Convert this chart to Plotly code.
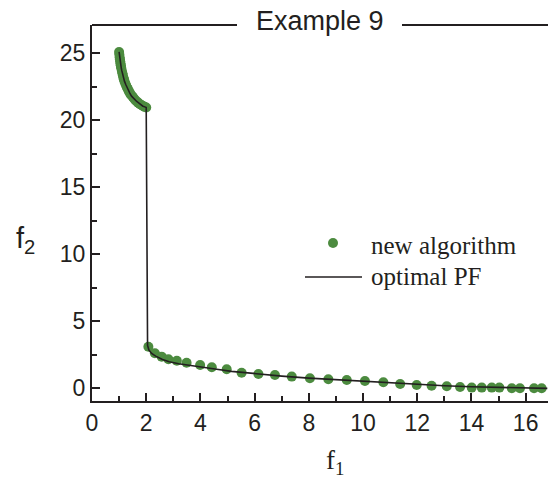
import plotly.graph_objects as go

# ---- data ----
alg_f1 = [1.00, 1.01, 1.02, 1.03, 1.04, 1.05, 1.06, 1.07, 1.08, 1.10, 1.12, 1.14, 1.16, 1.18,
          1.20, 1.23, 1.26, 1.29, 1.32, 1.35, 1.38, 1.42, 1.46, 1.50, 1.55, 1.60, 1.65, 1.70,
          1.76, 1.82, 1.88, 1.94, 2.00,
          2.08, 2.32, 2.57, 2.82, 3.13, 3.49, 3.99, 4.42, 4.97, 5.52, 6.14, 6.75, 7.37, 8.04,
          8.72, 9.40, 10.07, 10.75, 11.37, 11.98, 12.53, 13.09, 13.58, 14.01, 14.38, 14.75,
          15.03, 15.49, 15.79, 16.31, 16.59]
alg_f2 = [25.10, 24.90, 24.70, 24.55, 24.40, 24.25, 24.10, 24.00, 23.90, 23.70, 23.50, 23.35, 23.15, 23.05,
          22.90, 22.75, 22.60, 22.45, 22.35, 22.20, 22.10, 21.95, 21.85, 21.75, 21.62, 21.50, 21.40, 21.32,
          21.22, 21.14, 21.06, 21.00, 20.95,
          3.10, 2.61, 2.36, 2.16, 2.06, 1.91, 1.74, 1.57, 1.42, 1.16, 1.07, 0.99, 0.87, 0.75,
          0.67, 0.62, 0.54, 0.45, 0.32, 0.25, 0.19, 0.15, 0.10, 0.05, 0.05, 0.05,
          0.05, 0.00, 0.00, 0.00, 0.00]

pf_f1 = [1.00, 1.02, 1.04, 1.06, 1.08, 1.10, 1.13, 1.16, 1.20, 1.25, 1.30, 1.35, 1.40, 1.46,
         1.52, 1.58, 1.65, 1.72, 1.80, 1.88, 1.95, 2.00,
         2.05, 2.10, 2.20, 2.35, 2.60, 2.85, 3.20, 3.60, 4.05, 4.60, 5.15, 6.00, 7.00, 8.00,
         9.00, 10.00, 11.00, 12.00, 13.00, 14.00, 15.00, 16.00, 16.80]
pf_f2 = [25.10, 24.70, 24.40, 24.10, 23.90, 23.70, 23.40, 23.15, 22.90, 22.65, 22.40, 22.20, 22.00, 21.80,
         21.65, 21.50, 21.40, 21.30, 21.15, 21.05, 21.00, 20.95,
         3.20, 2.85, 2.60, 2.40, 2.15, 1.98, 1.83, 1.70, 1.58, 1.42, 1.26, 1.08, 0.91, 0.76,
         0.64, 0.53, 0.42, 0.30, 0.19, 0.11, 0.05, 0.01, -0.01]

x_range = [0, 17.12]
y_range = [-0.95, 27.11]

GREEN = "#4c8b3f"
INK = "#231f20"

# the page body adds an 8px offset, so the figure is 8px smaller than the window
OFF = 8
W, H = 556 - OFF, 482 - OFF
ML, MR, MT, MB = 92 - OFF, 0, 25 - OFF, 81
PW, PH = W - ML - MR, H - MT - MB


def px(x):
    return (x - OFF - ML) / PW


def py(y):
    return (H - MB - (y - OFF)) / PH


fig = go.Figure()
fig.add_trace(go.Scatter(x=alg_f1, y=alg_f2, mode="markers", name="new algorithm",
                         marker=dict(color=GREEN, size=10, line=dict(width=0)),
                         showlegend=False, cliponaxis=False))
fig.add_trace(go.Scatter(x=pf_f1, y=pf_f2, mode="lines", name="optimal PF",
                         line=dict(color=INK, width=1.6), showlegend=False, cliponaxis=False))

axis_common = dict(showgrid=False, zeroline=False, showline=True, linecolor=INK, linewidth=2,
                   ticks="inside", ticklen=8, tickwidth=2, tickcolor=INK, automargin=False,
                   tickfont=dict(family="Liberation Sans, Arial", size=23, color=INK))

fig.update_xaxes(range=x_range, tick0=0, dtick=2,
                 minor=dict(ticks="inside", ticklen=5, tickwidth=2, tickcolor=INK, dtick=1),
                 **axis_common)
fig.update_yaxes(range=y_range, tick0=0, dtick=5,
                 minor=dict(ticks="inside", ticklen=5, tickwidth=2, tickcolor=INK, dtick=2.5),
                 **axis_common)

shapes = [
    dict(type="line", xref="paper", yref="paper", x0=0, x1=px(237), y0=1, y1=1,
         line=dict(color=INK, width=2)),
    dict(type="line", xref="paper", yref="paper", x0=px(402), x1=1, y0=1, y1=1,
         line=dict(color=INK, width=2)),
    # legend symbols
    dict(type="circle", xref="paper", yref="paper", xsizemode="pixel", ysizemode="pixel",
         xanchor=px(333), yanchor=py(243), x0=-5, x1=5, y0=-5, y1=5,
         fillcolor=GREEN, line=dict(width=0)),
    dict(type="line", xref="paper", yref="paper", x0=px(305), x1=px(362), y0=py(277), y1=py(277),
         line=dict(color=INK, width=1.6)),
]

annotations = [
    dict(text="Example 9", xref="paper", yref="paper", x=px(320), y=py(21), showarrow=False,
         xanchor="center", yanchor="middle",
         font=dict(family="Liberation Sans, Arial", size=27, color=INK)),
    dict(text="new algorithm", xref="paper", yref="paper", x=px(369), y=py(245), showarrow=False,
         xanchor="left", yanchor="middle",
         font=dict(family="Liberation Serif, Times New Roman", size=25, color=INK)),
    dict(text="optimal PF", xref="paper", yref="paper", x=px(369), y=py(276), showarrow=False,
         xanchor="left", yanchor="middle",
         font=dict(family="Liberation Serif, Times New Roman", size=25, color=INK)),
    dict(text="f<sub>2</sub>", xref="paper", yref="paper", x=px(25), y=py(240), showarrow=False,
         xanchor="center", yanchor="middle",
         font=dict(family="Liberation Sans, Arial", size=29, color=INK)),
    dict(text="f<sub>1</sub>", xref="paper", yref="paper", x=px(335), y=py(462), showarrow=False,
         xanchor="center", yanchor="middle",
         font=dict(family="Liberation Serif, Times New Roman", size=27, color=INK)),
]

fig.update_layout(width=W, height=H, margin=dict(l=ML, r=MR, t=MT, b=MB, autoexpand=False),
                  paper_bgcolor="white", plot_bgcolor="white",
                  shapes=shapes, annotations=annotations, showlegend=False)

fig.write_html("out.html")
